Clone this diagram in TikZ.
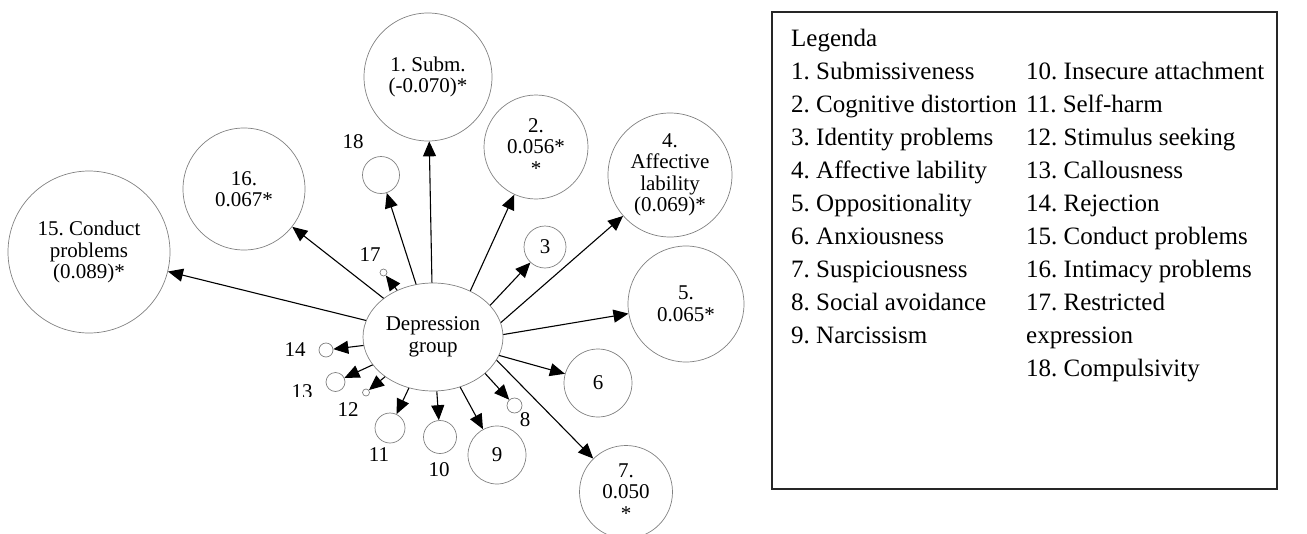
\documentclass[tikz,border=0pt]{standalone}
\usepackage{fontspec}
\setmainfont{Liberation Serif}
\usetikzlibrary{shapes.geometric,arrows.meta}
\newcommand{\diagfont}{\fontsize{21}{21.5}\selectfont}
\newcommand{\legfont}{\fontsize{25}{33}\selectfont}
\frenchspacing

\begin{document}
\begin{tikzpicture}[x=1pt,y=-1pt,
    trait/.style={circle, draw=gray, line width=0.7pt, inner sep=0pt, align=center, font=\diagfont},
    group/.style={ellipse, draw=gray, line width=0.7pt, inner sep=0pt, align=center, font=\diagfont,
                  minimum width=140pt, minimum height=108pt},
    num/.style={font=\diagfont, inner sep=0pt},
    arr/.style={-{Triangle[length=15pt,width=13pt]}, line width=1.1pt},
    legtext/.style={anchor=base west, font=\legfont, inner sep=0pt}]
      % \draw[help lines, gray!50, very thin] (0,0) grid (1307,533);
      \useasboundingbox (0,0) rectangle (1307,533);

      \node[group] (dep) at (433,337) {Depression\\group};

      \node[trait, minimum size=128pt] (c1) at (428,77) {1. Subm.\\(-0.070)*};
      \node[trait, minimum size=104pt] (c2) at (536,147) {2.\\0.056*\\*};
      \node[trait, minimum size=42pt] (c3) at (545,247) {3};
      \node[trait, minimum size=124pt] (c4) at (670,175) {4.\\Affective\\lability\\(0.069)*};
      \node[trait, minimum size=116pt] (c5) at (686,304) {5.\\0.065*};
      \node[trait, minimum size=68pt] (c6) at (598,383) {6};
      \node[trait, minimum size=93pt] (c7) at (626,492) {7.\\0.050\\*};
      \node[trait, minimum size=15pt] (c8) at (514.5,405.5) {};
      \node[trait, minimum size=58pt] (c9) at (497,455) {9};
      \node[trait, minimum size=33pt] (c10) at (440,437) {};
      \node[trait, minimum size=30pt] (c11) at (390,428) {};
      \node[trait, minimum size=7pt] (c12) at (366,392.5) {};
      \node[trait, minimum size=19pt] (c13) at (335.5,382) {};
      \node[trait, minimum size=14pt] (c14) at (326,350) {};
      \node[trait, minimum size=162pt] (c15) at (89,252) {15. Conduct\\problems\\(0.089)*};
      \node[trait, minimum size=122pt] (c16) at (244,189) {16.\\0.067*};
      \node[trait, minimum size=7pt] (c17) at (383.5,272.5) {};
      \node[trait, minimum size=37pt] (c18) at (381,175) {};

      % numbers beside the small circles
      \node[num] (n8) at (525,420) {8};
      \node[num] (n10) at (439,470) {10};
      \node[num] (n11) at (379,455) {11};
      \node[num] (n12) at (348,410) {12};
      \begin{scope}
        \clip (285,380) rectangle (320,396.5);
        \node[num] (n13) at (302,392) {13};
      \end{scope}
      \node[num] (n14) at (295,350) {14};
      \node[num] (n17) at (370,255) {17};
      \node[num] (n18) at (353,142) {18};

      \foreach \t in {1,6,9,10,11,12,13,14,15,16,17,18}
        \draw[arr] (dep) -- (c\t);
      \foreach \t/\a in {2/51, 3/29, 4/12, 5/2, 7/-20, 8/-35}
        \draw[arr] (dep.\a) -- (c\t);

      % legend
      \draw[line width=1.2pt, black!85] (772,12) rectangle (1277,489);
      \node[legtext] (leg) at (791,46) {Legenda};
      \foreach \txt [count=\i] in {1. Submissiveness, 2. Cognitive distortion, 3. Identity problems,
          4. Affective lability, 5. Oppositionality, 6. Anxiousness, 7. Suspiciousness,
          8. Social avoidance, 9. Narcissism}
        \node[legtext] (la\i) at (791,46+33*\i) {\txt};
      \foreach \txt [count=\i] in {10. Insecure attachment, 11. Self-harm, 12. Stimulus seeking,
          13. Callousness, 14. Rejection, 15. Conduct problems, 16. Intimacy problems,
          17. Restricted, expression, 18. Compulsivity}
        \node[legtext] (lb\i) at (1026,46+33*\i) {\txt};
    \end{tikzpicture}
\end{document}
